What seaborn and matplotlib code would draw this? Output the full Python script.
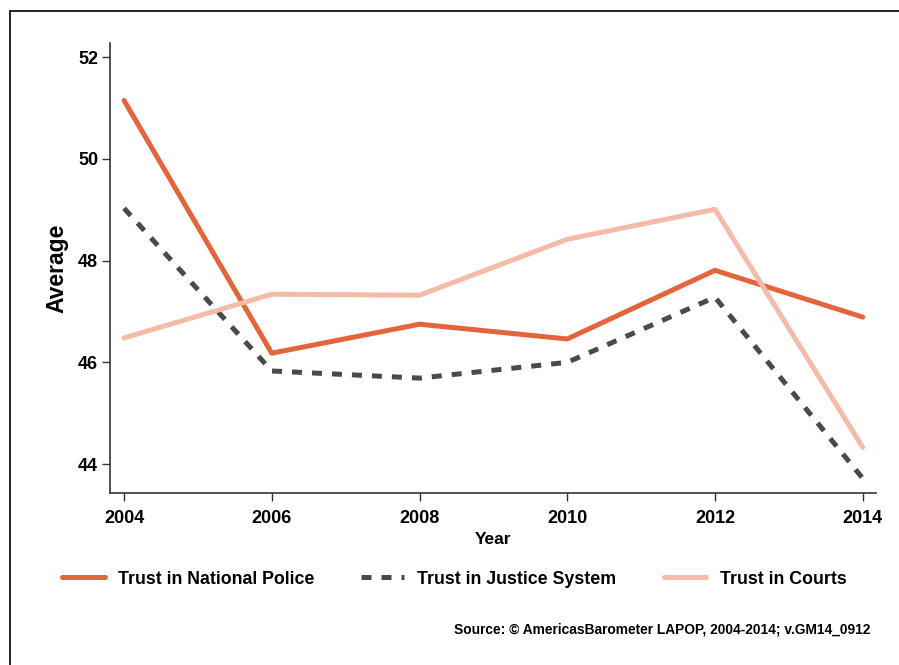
import pandas as pd
import matplotlib.pyplot as plt
import seaborn as sns
from matplotlib.lines import Line2D

# Values
YEARS = [2004, 2006, 2008, 2010, 2012, 2014]
POLICE = [51.15, 46.18, 46.75, 46.46, 47.81, 46.89]
JUSTICE = [49.03, 45.83, 45.69, 46.00, 47.28, 43.72]
COURTS = [46.48, 47.34, 47.32, 48.42, 49.01, 44.33]
SERIES = ["Trust in National Police", "Trust in Justice System", "Trust in Courts"]
COLORS = ["#E4643C", "#4A4A4A", "#F4BCA8"]
Y_TICKS = [44, 46, 48, 50, 52]

df = pd.DataFrame({
    "Year": YEARS * 3,
    "Average": POLICE + JUSTICE + COURTS,
    "series": [s for s in SERIES for _ in YEARS],
})

sns.set_style("ticks")
plt.rcParams["font.family"] = ["Liberation Sans", "DejaVu Sans"]
plt.rcParams["font.weight"] = "bold"
plt.rcParams["text.color"] = "black"
plt.rcParams["axes.labelcolor"] = "black"
plt.rcParams["xtick.color"] = "black"
plt.rcParams["ytick.color"] = "black"

fig = plt.figure(figsize=(8.99, 6.65), dpi=100)
ax = fig.add_axes([0.1224, 0.2586, 0.852, 0.6767])

sns.lineplot(
    data=df, x="Year", y="Average", hue="series", style="series",
    palette=dict(zip(SERIES, COLORS)),
    dashes={SERIES[0]: "", SERIES[1]: (2, 2), SERIES[2]: ""},
    linewidth=3.6, ax=ax,
)
for line in ax.get_lines():
    line.set_dash_capstyle("butt")
    line.set_solid_capstyle("round")

ax.set_xlim(2003.81, 2014.18)
ax.set_ylim(43.43, 52.28)
ax.set_xticks(YEARS)
ax.set_yticks(Y_TICKS)
ax.tick_params(axis="both", labelsize=13, length=6, width=1, color="#333333")
ax.tick_params(axis="x", pad=6)
ax.tick_params(axis="y", pad=2.5)
for lab in ax.get_xticklabels() + ax.get_yticklabels():
    lab.set_fontweight("bold")
sns.despine(ax=ax)
for sp in ["left", "bottom"]:
    ax.spines[sp].set_linewidth(1.2)
    ax.spines[sp].set_color("#333333")

ax.set_xlabel("Year", fontsize=12.5, fontweight="bold", labelpad=4)
ax.set_ylabel("Average", fontsize=16.5, fontweight="bold", labelpad=7)

handles, labels = ax.get_legend_handles_labels()
ax.get_legend().remove()
leg = fig.legend(
    handles, labels, loc="center left", bbox_to_anchor=(0.051, 0.129),
    ncol=3, frameon=False, fontsize=12.8, handlelength=2.4,
    handletextpad=0.75, columnspacing=2.65,
)
for t in leg.get_texts():
    t.set_fontweight("bold")

fig.text(0.968, 0.053, "Source: \u00a9 AmericasBarometer LAPOP, 2004-2014; v.GM14_0912",
         ha="right", va="center", fontsize=9.9, fontweight="bold")

# outer frame
fig.add_artist(Line2D([0.0111, 0.0111], [0, 0.9835], color="black", lw=1.2))
fig.add_artist(Line2D([0.0111, 1.0], [0.9835, 0.9835], color="black", lw=1.2))

fig.savefig("out.png", dpi=100)
